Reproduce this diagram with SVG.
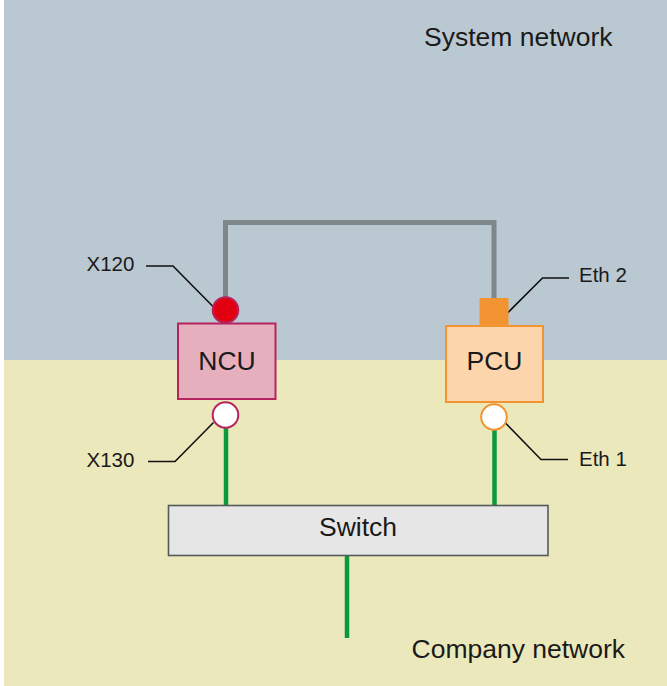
<svg xmlns="http://www.w3.org/2000/svg" width="667" height="686" viewBox="0 0 667 686">
<style>
text{font-family:"Liberation Sans",Arial,sans-serif;fill:#1a1a1a}
.big{font-size:26.5px}
.lbl{font-size:20.5px}
.lead{fill:none;stroke:#111;stroke-width:1.6}
.green{stroke:#0a9a3c;stroke-width:4.5;fill:none}
.gray{stroke:#7d8689;stroke-width:5;fill:none}
</style>
<g id="background">
<rect x="4" y="0" width="663" height="360" fill="#bac8d2"/>
<rect x="4" y="360" width="663" height="326" fill="#ebe9bb"/>
<text class="big" x="424" y="46">System network</text>
<text class="big" x="411.5" y="658">Company network</text>
</g>
<g id="connectors">
<polyline class="gray" points="225.5,298 225.5,222.5 494,222.5 494,299"/>
<line class="green" x1="226" y1="428" x2="226" y2="506"/>
<line class="green" x1="494.5" y1="430" x2="494.5" y2="506"/>
<line class="green" x1="347" y1="555" x2="347" y2="638"/>
<polyline class="lead" points="146,266 173,266 213,306.5"/>
<polyline class="lead" points="148,461.5 175,461.5 213.5,422.5"/>
<polyline class="lead" points="569,278 542.5,278 502.5,318"/>
<polyline class="lead" points="568,459.5 541,459.5 501.5,419"/>
</g>
<g id="ncu">
<rect x="178" y="323.5" width="97.5" height="75.5" fill="#e6afbe" stroke="#b5245e" stroke-width="2"/>
<text class="big" x="227" y="369.5" text-anchor="middle">NCU</text>
</g>
<g id="x120">
<circle cx="225.5" cy="310" r="12.8" fill="#e10010" stroke="#b5245e" stroke-width="2"/>
<text class="lbl" x="86.5" y="271">X120</text>
</g>
<g id="x130">
<circle cx="225.5" cy="415" r="12.8" fill="#ffffff" stroke="#b5245e" stroke-width="2"/>
<text class="lbl" x="86.5" y="467">X130</text>
</g>
<g id="pcu">
<rect x="446" y="326" width="97" height="76" fill="#fdd5ad" stroke="#f39433" stroke-width="2"/>
<text class="big" x="494.5" y="369.5" text-anchor="middle">PCU</text>
</g>
<g id="eth2">
<rect x="479.5" y="298" width="29" height="28" fill="#f39433"/>
<text class="lbl" x="579" y="282">Eth 2</text>
</g>
<g id="eth1">
<circle cx="494" cy="417" r="12.8" fill="#ffffff" stroke="#f39433" stroke-width="2"/>
<text class="lbl" x="579" y="466">Eth 1</text>
</g>
<g id="switch">
<rect x="168.5" y="505.5" width="379.5" height="50" fill="#e6e6e6" stroke="#555a5c" stroke-width="1.6"/>
<text class="big" x="358" y="536" text-anchor="middle">Switch</text>
</g>
</svg>
